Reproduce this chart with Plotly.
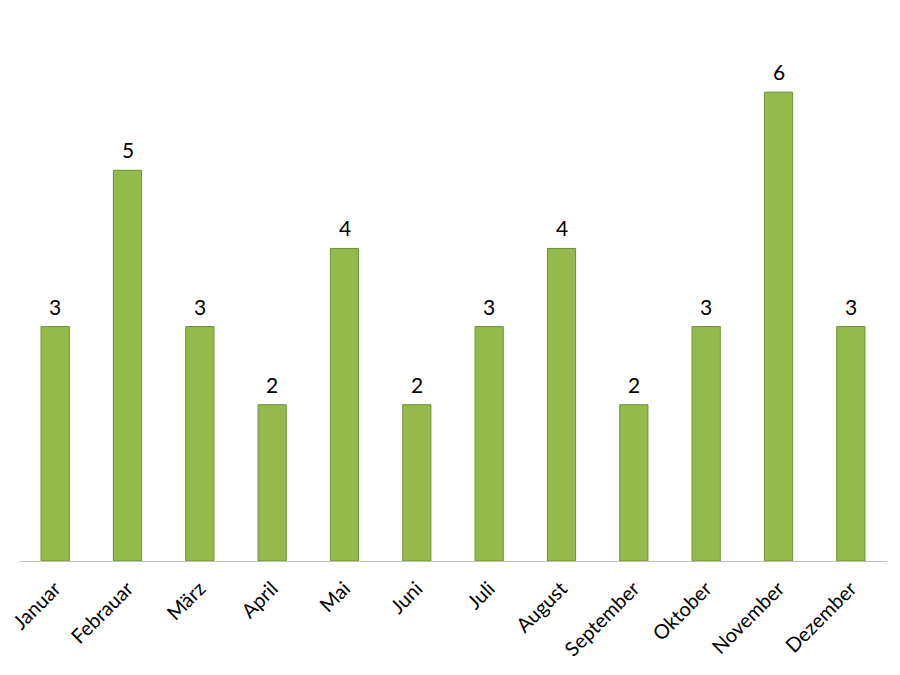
import plotly.graph_objects as go

months = ["Januar", "Febrauar", "März", "April", "Mai", "Juni", "Juli",
          "August", "September", "Oktober", "November", "Dezember"]
values = [3, 5, 3, 2, 4, 2, 3, 4, 2, 3, 6, 3]

fig = go.Figure()
fig.add_trace(go.Bar(
    x=months, y=values,
    marker=dict(color="#94ba4c", line=dict(color="#6f8f35", width=1)),
    cliponaxis=False,
))
for m, v in zip(months, values):
    fig.add_annotation(x=m, y=v, text=str(v), showarrow=False,
                       yanchor="bottom", yshift=6,
                       font=dict(family="Lato, Open Sans, sans-serif", size=21, color="#000000"))
fig.update_layout(
    width=900, height=675,
    paper_bgcolor="white", plot_bgcolor="white",
    margin=dict(l=11, r=21, t=6, b=122, autoexpand=False),
    bargap=0.61,
    showlegend=False,
    font=dict(family="Lato, Open Sans, sans-serif", size=20, color="#000000"),
)
fig.update_xaxes(tickangle=-45, showline=True, linecolor="#c0c0c0", linewidth=1,
                 ticks="outside", ticklen=7, tickcolor="rgba(0,0,0,0)",
                 showgrid=False, tickfont=dict(size=20), automargin=False)
fig.update_yaxes(range=[0, 7], visible=False, showgrid=False, automargin=False)
fig.write_html("out.html")
